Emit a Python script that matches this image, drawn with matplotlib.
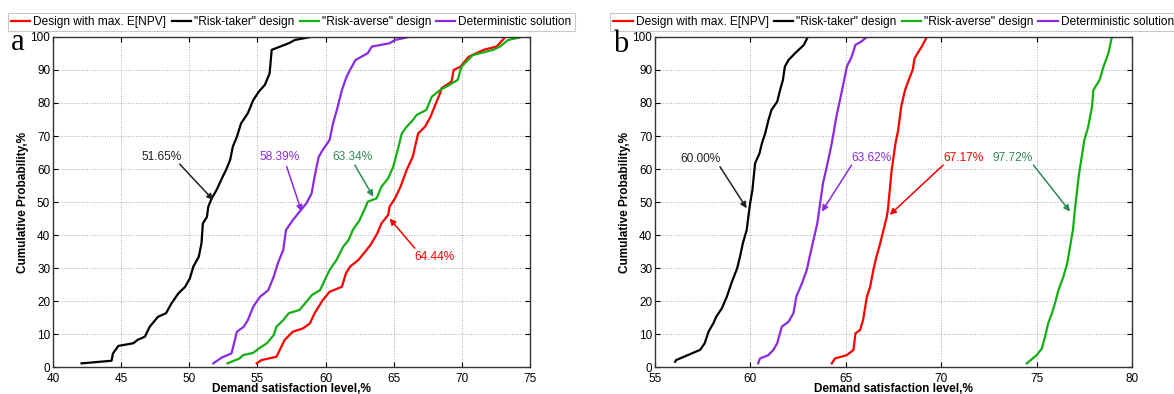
import matplotlib
matplotlib.use("Agg")
import matplotlib.pyplot as plt

plt.rcParams['font.family'] = ['Liberation Sans', 'DejaVu Sans']

# ---- data, panel a ----
a_black_x = [42.1, 44.3, 44.4, 44.8, 45.9, 46.2, 46.75, 47.1, 47.5, 47.7, 48.3, 48.7, 49.2, 49.7, 50.05, 50.3,
             50.7, 50.9, 51.0, 51.3, 51.4, 51.65, 52.0, 52.4, 52.7, 53.0, 53.2, 53.5, 53.8, 54.3, 54.7, 55.1,
             55.55, 55.9, 56.05, 57.3, 57.75, 58.9]
a_black_y = [1.1, 1.9, 4.1, 6.4, 7.2, 8.2, 9.2, 12.2, 14.2, 15.2, 16.3, 19.3, 22.3, 24.3, 26.9, 30.4,
             33.4, 37.5, 43.5, 45.5, 48.6, 51.1, 53.6, 57.2, 59.7, 62.7, 66.8, 69.8, 73.8, 76.9, 80.9, 83.4,
             85.5, 89.0, 96.1, 98.1, 99.1, 100]

a_purple_x = [51.76, 52.4, 53.1, 53.5, 54.0, 54.3, 54.7, 55.2, 55.8, 56.2, 56.5, 56.9, 57.1, 57.6, 58.1, 58.6,
              58.98, 59.2, 59.5, 59.8, 60.3, 60.55, 60.9, 61.2, 61.55, 61.8, 62.2, 63.1, 63.4, 64.7, 65.1, 66.1]
a_purple_y = [1.1, 2.9, 4.1, 10.7, 12.2, 14.2, 18.3, 21.3, 23.3, 27.4, 31.4, 35.5, 41.5, 44.5, 47.1, 49.6,
              52.6, 57.7, 63.7, 65.8, 68.8, 73.8, 78.9, 83.9, 88.0, 90.0, 93.0, 95.1, 97.1, 98.1, 99.1, 100]

a_green_x = [52.8, 53.7, 53.95, 54.7, 55.1, 55.7, 56.2, 56.4, 56.9, 57.3, 58.1, 58.6, 59.0, 59.6, 59.95, 60.3,
             60.8, 61.3, 61.7, 62.0, 62.5, 62.9, 63.1, 63.75, 64.1, 64.6, 64.97, 65.3, 65.6, 65.95, 66.3, 66.7,
             67.4, 67.8, 68.4, 69.1, 69.7, 69.98, 70.8, 72.3, 72.8, 73.4, 74.4]
a_green_y = [1.1, 2.6, 3.6, 4.3, 5.6, 7.2, 9.7, 12.2, 14.2, 16.3, 17.3, 19.8, 21.8, 23.3, 26.4, 29.4,
             32.4, 36.5, 38.5, 41.5, 44.5, 48.1, 50.1, 51.1, 54.6, 57.2, 60.7, 65.8, 70.8, 72.8, 74.3, 76.4,
             77.9, 81.9, 83.9, 85.5, 87.0, 91.0, 94.5, 96.1, 97.1, 99.1, 100]

a_red_x = [54.95, 55.3, 56.4, 56.65, 57.0, 57.6, 58.35, 58.85, 59.2, 59.8, 60.3, 61.2, 61.5, 61.8, 62.4, 62.9,
           63.3, 63.8, 64.1, 64.6, 64.7, 65.1, 65.5, 65.95, 66.4, 66.6, 66.8, 67.3, 67.7, 68.0, 68.4, 68.5,
           69.25, 69.4, 69.9, 70.5, 71.6, 72.55, 73.2]
a_red_y = [1.1, 2.1, 3.1, 5.2, 8.2, 10.7, 11.7, 13.2, 16.3, 20.3, 22.8, 24.3, 28.4, 30.4, 32.4, 34.9,
           37.0, 40.5, 43.5, 46.1, 48.6, 51.1, 54.6, 59.7, 63.7, 67.3, 70.8, 72.8, 75.8, 78.9, 82.9, 84.4,
           86.5, 90.0, 91.0, 94.0, 96.1, 97.1, 100]

# ---- data, panel b ----
b_black_x = [56.05, 56.1, 57.36, 57.6, 57.8, 58.05, 58.2, 58.5, 58.76, 59.0, 59.3, 59.45, 59.6, 59.8, 59.9,
             59.98, 60.1, 60.24, 60.47, 60.6, 60.77, 60.94, 61.1, 61.4, 61.55, 61.7, 61.8, 61.99, 62.34, 62.8, 63.0]
b_black_y = [1.6, 2.1, 5.2, 7.2, 10.7, 13.2, 15.2, 17.8, 21.3, 25.4, 29.9, 33.4, 37.5, 41.5, 46.1,
             49.6, 53.6, 61.7, 64.7, 67.8, 70.8, 74.8, 77.9, 80.4, 83.9, 87.0, 91.0, 93.0, 95.1, 97.6, 100]

b_purple_x = [60.4, 60.5, 60.94, 61.2, 61.4, 61.64, 61.99, 62.25, 62.4, 62.7, 62.95, 63.1, 63.3, 63.5, 63.65,
              63.8, 64.0, 64.26, 64.5, 64.8, 65.05, 65.3, 65.5, 65.8, 66.1]
b_purple_y = [1.1, 2.6, 3.6, 5.2, 7.2, 12.2, 13.7, 16.3, 21.3, 25.4, 29.4, 33.4, 38.5, 43.5, 49.6,
              55.7, 60.7, 67.8, 75.8, 83.9, 91.0, 94.0, 97.6, 98.6, 100]

b_red_x = [64.26, 64.43, 65.05, 65.4, 65.5, 65.74, 65.9, 66.1, 66.27, 66.44, 66.6, 66.8, 66.97, 67.14, 67.2,
           67.4, 67.6, 67.74, 67.9, 68.1, 68.36, 68.5, 68.6, 68.8, 68.98, 69.24]
b_red_y = [1.1, 2.6, 3.6, 5.2, 10.2, 11.2, 14.2, 21.3, 24.3, 29.4, 33.4, 37.5, 41.5, 45.5, 47.6,
           59.7, 67.8, 71.8, 78.9, 83.9, 88.0, 90.0, 93.5, 95.5, 97.1, 100]

b_green_x = [74.48, 75.0, 75.27, 75.44, 75.6, 75.8, 75.96, 76.14, 76.4, 76.6, 76.75, 76.9, 77.0, 77.2, 77.36,
             77.5, 77.7, 77.9, 77.97, 78.3, 78.5, 78.76, 78.94]
b_green_y = [1.1, 3.6, 5.6, 9.2, 13.2, 16.3, 19.3, 23.3, 27.4, 31.4, 36.5, 41.5, 47.6, 57.7, 63.7,
             68.8, 72.8, 78.9, 83.9, 87.0, 91.0, 95.1, 100]

series_names = ['Design with max. E[NPV]', '"Risk-taker" design', '"Risk-averse" design', 'Deterministic solution']

# annotations: label, text position, arrow tail, arrow tip
a_labels = ['51.65%', '58.39%', '63.34%', '64.44%']
a_text = [(48.0, 63.7), (56.65, 63.7), (62.0, 63.7), (68.0, 33.4)]
a_tail = [(49.3, 61.5), (57.15, 60.7), (62.15, 61.2), (66.55, 36.0)]
a_tip = [(51.76, 50.6), (58.25, 47.1), (63.5, 51.6), (64.7, 45.0)]

b_labels = ['60.00%', '63.62%', '67.17%', '97.72%']
b_text = [(57.36, 62.9), (66.36, 63.2), (71.16, 63.4), (73.75, 63.4)]
b_tail = [(58.4, 60.7), (65.3, 61.2), (70.1, 61.2), (74.83, 61.2)]
b_tip = [(59.8, 48.1), (63.74, 47.1), (67.3, 46.1), (76.75, 47.1)]

RED = '#ff0000'
BLACK = '#000000'
GREEN = '#12b012'
PURPLE = '#8a2be2'
TEAL = '#2e8b57'

a_ann_colors = ['#222222', PURPLE, TEAL, RED]
b_ann_colors = ['#222222', PURPLE, RED, TEAL]

fig = plt.figure(figsize=(11.74, 3.94), dpi=100)
ax_a = fig.add_axes([0.0451, 0.0685, 0.4063, 0.8376])
ax_b = fig.add_axes([0.558, 0.0685, 0.4063, 0.8376])


def draw_panel(ax, red, black, green, purple, xlim, labels, tpos, tail, tip, colors):
    lw = 1.6
    ax.plot(red[0], red[1], color=RED, lw=lw, label=series_names[0])
    ax.plot(black[0], black[1], color=BLACK, lw=lw, label=series_names[1])
    ax.plot(green[0], green[1], color=GREEN, lw=lw, label=series_names[2])
    ax.plot(purple[0], purple[1], color=PURPLE, lw=lw, label=series_names[3])
    ax.set_xlim(*xlim)
    ax.set_ylim(0, 100)
    ax.set_xticks(range(xlim[0], xlim[1] + 1, 5))
    ax.set_yticks(range(0, 101, 10))
    ax.grid(True, linestyle=':', color='#aaaaaa', lw=0.7)
    ax.tick_params(direction='in', top=True, right=True, length=3.5, width=0.8, labelsize=8.5, pad=2)
    ax.tick_params(axis='x', pad=4)
    for s in ax.spines.values():
        s.set_linewidth(1.0)
        s.set_color('#333333')
    ax.set_xlabel('Demand satisfaction level,%', fontsize=8.5, fontweight='bold', labelpad=-1)
    ax.set_ylabel('Cumulative Probability,%', fontsize=8.5, fontweight='bold', labelpad=1)
    for lab, tp, tl, tq, c in zip(labels, tpos, tail, tip, colors):
        ax.text(tp[0], tp[1], lab, color=c, fontsize=8.6, ha='center', va='center')
        ax.annotate('', xy=tq, xytext=tl,
                    arrowprops=dict(arrowstyle='-|>', color=c, lw=1.1, mutation_scale=9,
                                    shrinkA=0, shrinkB=0))
    leg = ax.legend(loc='lower center', bbox_to_anchor=(0.5, 1.018), ncol=4, fontsize=8.6,
                    handlelength=1.6, handletextpad=0.25, columnspacing=0.45, borderpad=0.25,
                    borderaxespad=0, fancybox=False, frameon=True)
    leg.get_frame().set_edgecolor('#bbbbbb')
    leg.get_frame().set_linewidth(0.8)


draw_panel(ax_a, (a_red_x, a_red_y), (a_black_x, a_black_y), (a_green_x, a_green_y),
           (a_purple_x, a_purple_y), (40, 75), a_labels, a_text, a_tail, a_tip, a_ann_colors)
draw_panel(ax_b, (b_red_x, b_red_y), (b_black_x, b_black_y), (b_green_x, b_green_y),
           (b_purple_x, b_purple_y), (55, 80), b_labels, b_text, b_tail, b_tip, b_ann_colors)

fig.text(18 / 1174, 1 - 42 / 394, 'a', fontsize=22, family='Liberation Serif', ha='center', va='center')
fig.text(621 / 1174, 1 - 44 / 394, 'b', fontsize=22, family='Liberation Serif', ha='center', va='center')

fig.savefig('out.png', dpi=100)
